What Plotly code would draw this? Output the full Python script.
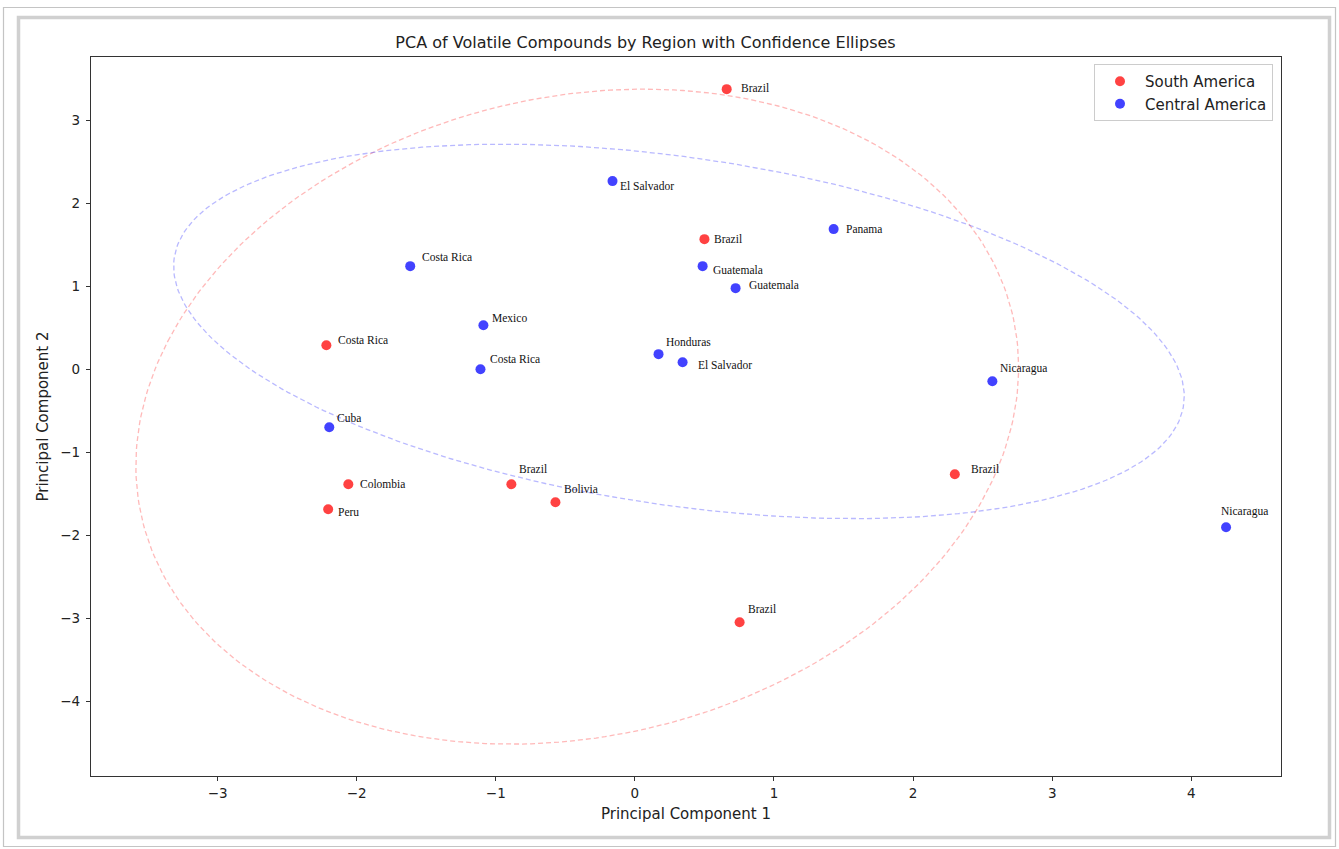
import numpy as np
import plotly.graph_objects as go

# ---------------- data ----------------
sa_names = ["Brazil", "Brazil", "Costa Rica", "Colombia", "Peru", "Brazil", "Bolivia", "Brazil", "Brazil"]
sa_pc1 = [0.660, 0.500, -2.218, -2.060, -2.205, -0.888, -0.571, 2.300, 0.753]
sa_pc2 = [3.373, 1.566, 0.289, -1.386, -1.687, -1.386, -1.602, -1.265, -3.048]
sa_lab_x = [0.748, 0.556, -2.146, -1.988, -2.146, -0.851, -0.527, 2.404, 0.800]
sa_lab_y = [3.386, 1.566, 0.349, -1.386, -1.723, -1.205, -1.446, -1.205, -2.892]

ca_names = ["El Salvador", "Costa Rica", "Panama", "Guatemala", "Guatemala", "Mexico", "Costa Rica",
            "Honduras", "El Salvador", "Nicaragua", "Cuba", "Nicaragua"]
ca_pc1 = [-0.161, -1.615, 1.429, 0.487, 0.724, -1.089, -1.110, 0.170, 0.343, 2.570, -2.197, 4.250]
ca_pc2 = [2.265, 1.241, 1.687, 1.241, 0.976, 0.530, 0.000, 0.181, 0.084, -0.145, -0.699, -1.904]
ca_lab_x = [-0.120, -1.546, 1.504, 0.548, 0.807, -1.042, -1.056, 0.210, 0.441, 2.612, -2.157, 4.196]
ca_lab_y = [2.205, 1.349, 1.687, 1.193, 1.012, 0.614, 0.120, 0.325, 0.048, 0.012, -0.590, -1.711]

x_ticks = [-3, -2, -1, 0, 1, 2, 3, 4]
y_ticks = [-4, -3, -2, -1, 0, 1, 2, 3]
n_std = 2.0

# ---------------- layout geometry ----------------
W, H = 1339, 849
L, R, T, B = 91, 1281, 57, 776


def px(x):
    return (x - L) / (R - L)


def py(y):
    return (B - y) / (B - T)


def ellipse(xs, ys, n):
    xs = np.asarray(xs); ys = np.asarray(ys)
    cov = np.cov(xs, ys)
    vals, vecs = np.linalg.eigh(cov)
    t = np.linspace(0, 2 * np.pi, 300)
    circ = np.vstack([np.cos(t), np.sin(t)])
    pts = vecs @ (np.sqrt(vals)[:, None] * n * circ)
    return pts[0] + xs.mean(), pts[1] + ys.mean()


fig = go.Figure()

groups = [
    ("South America", sa_names, sa_pc1, sa_pc2, sa_lab_x, sa_lab_y, "rgba(255,0,0,0.74)", "rgba(255,60,60,0.36)"),
    ("Central America", ca_names, ca_pc1, ca_pc2, ca_lab_x, ca_lab_y, "rgba(0,0,255,0.74)", "rgba(60,60,255,0.36)"),
]

for name, names, xs, ys, lx, ly, col, ecol in groups:
    fig.add_trace(go.Scatter(x=xs, y=ys, mode="markers", name=name,
                             marker=dict(size=10, color=col, line=dict(width=0))))

for name, names, xs, ys, lx, ly, col, ecol in groups:
    ex, ey = ellipse(xs, ys, n_std)
    fig.add_trace(go.Scatter(x=ex, y=ey, mode="lines", showlegend=False, hoverinfo="skip",
                             line=dict(color=ecol, width=1.3, dash="5px,3px")))
    for n_, x_, y_ in zip(names, lx, ly):
        fig.add_annotation(x=x_, y=y_, text=n_, showarrow=False, xanchor="left", yanchor="middle",
                           font=dict(family="Liberation Serif", size=11.5, color="#111111"))

# outer frame decorations
fig.add_shape(type="rect", xref="paper", yref="paper", x0=px(3.5), x1=px(1335.5), y0=py(7.5), y1=py(846.5),
              line=dict(color="#c4c4c4", width=1.2), layer="below")
fig.add_shape(type="rect", xref="paper", yref="paper", x0=px(18.5), x1=px(1329.5), y0=py(17.5), y1=py(837.5),
              line=dict(color="#d0d0d0", width=3.5), layer="below")

axis_common = dict(showgrid=False, zeroline=False, showline=True, mirror=True,
                   linecolor="#333333", linewidth=1.2, ticks="outside", ticklen=4,
                   tickcolor="#333333", tickfont=dict(family="DejaVu Sans", size=13.5, color="#222222"))

fig.update_layout(
    width=W, height=H,
    margin=dict(l=L, r=W - R, t=T, b=H - B),
    paper_bgcolor="white", plot_bgcolor="white",
    title=dict(text="PCA of Volatile Compounds by Region with Confidence Ellipses",
               x=645.5 / W, xanchor="center", y=1 - 42 / H, yanchor="middle",
               font=dict(family="DejaVu Sans", size=16, color="#222222")),
    xaxis=dict(range=[-3.91, 4.645], tickvals=x_ticks, ticklabelstandoff=1,
               title=dict(text="Principal Component 1", standoff=8,
                          font=dict(family="DejaVu Sans", size=15, color="#222222")),
               **axis_common),
    yaxis=dict(range=[-4.90, 3.76], tickvals=y_ticks, ticklabelstandoff=3,
               title=dict(text="Principal Component 2", standoff=8,
                          font=dict(family="DejaVu Sans", size=15, color="#222222")),
               **axis_common),
    legend=dict(x=px(1273), y=py(64), xanchor="right", yanchor="top",
                bordercolor="#cccccc", borderwidth=1, bgcolor="rgba(255,255,255,0.85)",
                font=dict(family="DejaVu Sans", size=15, color="#222222"),
                itemwidth=40),
    showlegend=True,
)

fig.write_html("out.html", config={"displayModeBar": False},
               post_script="document.body.style.margin='0px';")
